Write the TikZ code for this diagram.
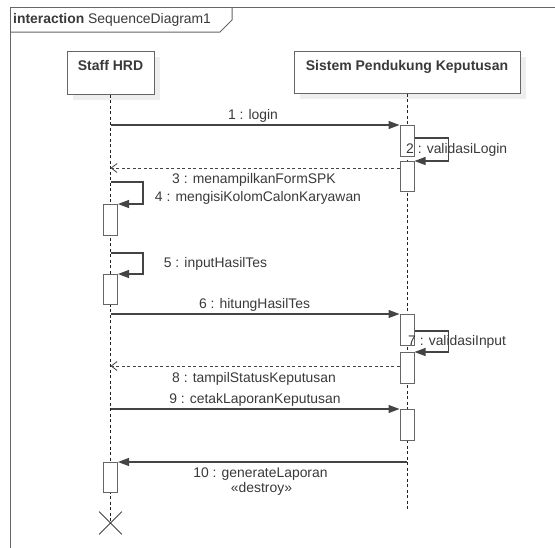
\documentclass[tikz,border=0pt]{standalone}
\usepackage{fontspec}
\setmainfont{Liberation Sans}
\usetikzlibrary{arrows.meta,calc,shapes.misc}
\definecolor{linec}{HTML}{444444}
\definecolor{lifec}{HTML}{222222}
\definecolor{boxc}{HTML}{666666}
\definecolor{txtc}{HTML}{3A3A3A}
\definecolor{shadowc}{HTML}{EEEEEE}
\begin{document}
\begin{tikzpicture}[x=1pt,y=-1pt,
  lbl/.style={font=\fontsize{13.9}{15}\selectfont, text=txtc, inner sep=0pt, anchor=base},
  hdr/.style={font=\fontsize{14}{16}\selectfont\bfseries, text=txtc, inner sep=0pt, anchor=base},
  headbox/.style={draw=boxc, line width=1pt, fill=white, rectangle, inner sep=0pt},
  actbox/.style={draw=boxc, line width=1pt, fill=white, rectangle, inner sep=0pt, minimum width=14pt, anchor=north},
  lifeline/.style={draw=lifec, line width=1pt, dash pattern=on 3pt off 2.5pt},
  msg/.style={draw=linec, line width=1.1pt, -{Triangle[length=11pt,width=8pt]}},
  ret/.style={draw=linec, line width=1pt, dash pattern=on 3pt off 2.5pt, -{Straight Barb[length=6pt,width=9pt,line width=0.8pt]}}
]
\useasboundingbox (0,0) rectangle (555,547);
\fill[white] (0,0) rectangle (555,547);
% frame
\draw[boxc, line width=1pt] (10.5,560) -- (10.5,7.5) -- (570,7.5);
\draw[boxc, line width=1pt] (10.5,32) -- (220,32) -- (232,20) -- (232,7.5);
\node[lbl, anchor=base west] (title) at (13,23.5) {\textbf{interaction} SequenceDiagram1};

% head boxes with shadows
\fill[shadowc] (73,57) rectangle (160,100);
\fill[shadowc] (300,57) rectangle (526,99);
\node[headbox, minimum width=87pt, minimum height=43pt] (staff) at (110.5,72.5) {};
\node[headbox, minimum width=226pt, minimum height=42pt] (sys) at (407,72) {};
\node[hdr] (stafft) at (110.5,70.5) {Staff HRD};
\node[hdr] (syst) at (407,70) {Sistem Pendukung Keputusan};

% destroy mark
\node[draw=linec, line width=0.8pt, cross out, minimum size=22pt, inner sep=0pt] (xmark) at (110.5,523) {};
\coordinate (sysend) at (407,510);

% lifelines
\draw[lifeline] (staff.south) -- (xmark.center);
\draw[lifeline] (sys.south) -- (sysend);

% activations
\node[actbox, minimum height=31pt] (a1) at (407,125) {};
\node[actbox, minimum height=30pt] (a2) at (407,161) {};
\node[actbox, minimum height=31pt] (a3) at (407,314) {};
\node[actbox, minimum height=31pt] (a4) at (407,352) {};
\node[actbox, minimum height=31pt] (a5) at (407,409) {};
\node[actbox, minimum height=31pt] (b1) at (110.5,204) {};
\node[actbox, minimum height=30pt] (b2) at (110.5,274) {};
\node[actbox, minimum height=30pt] (b3) at (110.5,462) {};

% lifeline coordinates for message ends
\coordinate (s1) at (110.5,125);
\coordinate (s3) at (110.5,168);
\coordinate (s4) at (110.5,182);
\coordinate (s5) at (110.5,253);
\coordinate (s6) at (110.5,314);
\coordinate (s8) at (110.5,366);
\coordinate (s9) at (110.5,409);
\coordinate (p10) at (407,462);

% messages
\draw[msg] (s1) -- (a1.north west);
\draw[msg] ($(a1.north east)+(0,13)$) -- ++(34,0) |- (a2.north east);
\draw[ret] ($(a2.north west)+(0,7)$) -- (s3);
\draw[msg] (s4) -- ++(32.5,0) |- (b1.north east);
\draw[msg] (s5) -- ++(32.5,0) |- (b2.north east);
\draw[msg] (s6) -- (a3.north west);
\draw[msg] ($(a3.north east)+(0,17)$) -- ++(34,0) |- (a4.north east);
\draw[ret] ($(a4.north west)+(0,14)$) -- (s8);
\draw[msg] (s9) -- (a5.north west);
\draw[msg] (p10) -- (b3.north east);

% labels
\node[lbl] (l1) at (253,119) {1 : login};
\node[lbl, anchor=base west] (l2) at (406,153) {2 : validasiLogin};
\node[lbl] (l3) at (254,183) {3 : menampilkanFormSPK};
\node[lbl] (l4) at (258,201) {4 : mengisiKolomCalonKaryawan};
\node[lbl] (l5) at (215.5,267) {5 : inputHasilTes};
\node[lbl] (l6) at (254.5,308) {6 : hitungHasilTes};
\node[lbl, anchor=base west] (l7) at (408,345) {7 : validasiInput};
\node[lbl] (l8) at (254,382) {8 : tampilStatusKeputusan};
\node[lbl] (l9) at (255,403) {9 : cetakLaporanKeputusan};
\node[lbl] (l10) at (260.5,477) {10 : generateLaporan};
\node[lbl] (l10b) at (261.5,492) {«destroy»};
\end{tikzpicture}
\end{document}
